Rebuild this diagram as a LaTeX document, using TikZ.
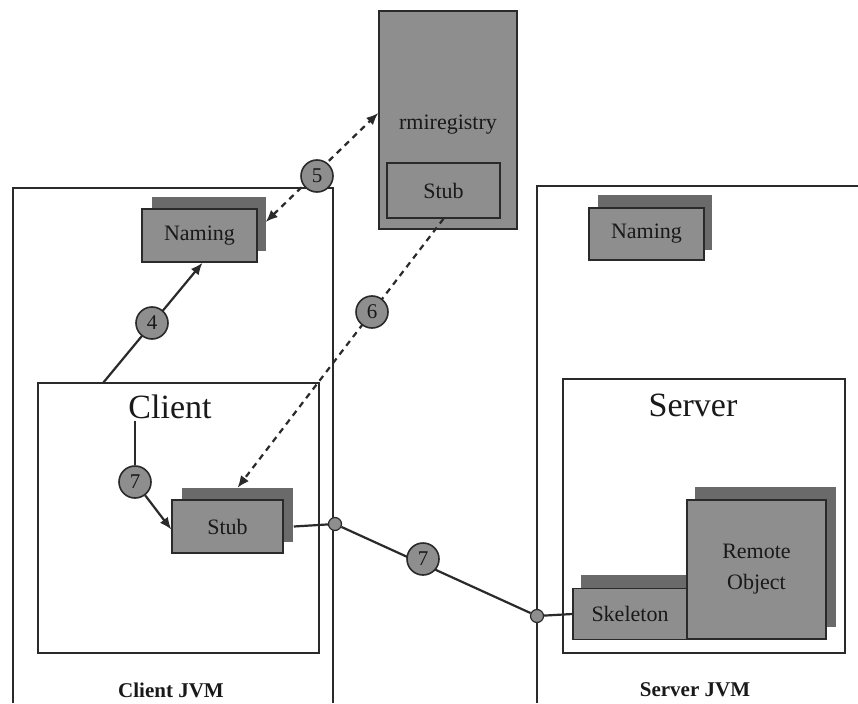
\documentclass[tikz,border=0pt]{standalone}
\usepackage{fontspec}
\setmainfont{LiberationSerif}[Extension=.ttf, UprightFont=*-Regular, BoldFont=*-Bold]
\usetikzlibrary{arrows.meta,calc}
\definecolor{boxfill}{HTML}{8E8E8E}
\definecolor{shadowfill}{HTML}{6A6A6A}
\definecolor{ink}{HTML}{2A2A2A}
\tikzset{
  comp/.style={draw=ink, fill=boxfill, line width=1.5pt, text=black!90, inner sep=0pt,
               font=\fontsize{22}{24}\selectfont},
  compsh/.style={fill=shadowfill, draw=none, inner sep=0pt},
  plaintext/.style={text=black!90, inner sep=0pt, font=\fontsize{22}{24}\selectfont},
  num/.style={circle, draw=ink, fill=boxfill, line width=1.6pt, minimum size=32pt,
              inner sep=0pt, font=\fontsize{21}{21}\selectfont, text=black!90},
  junc/.style={circle, draw=ink, fill=boxfill, minimum size=13pt, inner sep=0pt, line width=1.2pt},
  frame/.style={draw=ink, line width=2pt},
  conn/.style={draw=ink, line width=2.2pt},
  dconn/.style={draw=ink, line width=2.2pt, dash pattern=on 6pt off 5pt},
  arr/.style={-{Latex[length=12pt,width=10pt]}},
  darr/.style={{Latex[length=12pt,width=10pt]}-{Latex[length=12pt,width=10pt]}},
  biglabel/.style={font=\fontsize{34}{36}\selectfont, text=black!90, inner sep=2pt},
  jvmlabel/.style={font=\bfseries\fontsize{21}{24}\selectfont, text=black!90, inner sep=0pt}
}
\begin{document}
\begin{tikzpicture}[x=1pt, y=-1pt]
\useasboundingbox[fill=white] (0,0) rectangle (858,703);

% JVM containers
\draw[frame] (13,703) -- (13,188) -- (333,188) -- (333,703);
\draw[frame] (537,703) -- (537,186) -- (858,186);
\node[jvmlabel] (cjvm) at (171,690) {Client JVM};
\node[jvmlabel] (sjvm) at (695,690) {Server JVM};

% Client / Server boxes
\draw[frame] (38,383) rectangle (319,653);
\draw[frame] (563,379) rectangle (845,653);
\node[biglabel] (clientlbl) at (170,407) {Client};
\node[biglabel] (serverlbl) at (693,405) {Server};

% rmiregistry
\node[comp, minimum width=138pt, minimum height=218pt] (rmireg) at (448,120) {};
\node[plaintext, anchor=base] (rmitxt) at (448,130) {rmiregistry};
\node[comp, minimum width=113pt, minimum height=55pt] (rstub) at (443.5,190.5) {Stub};

% Client naming
\node[compsh, minimum width=114pt, minimum height=54pt] (cnamsh) at (208.5,224) {};
\node[comp, minimum width=115pt, minimum height=53pt] (cnam) at (199.5,235.5) {Naming};

% Server naming
\node[compsh, minimum width=114pt, minimum height=54pt] (snamsh) at (655,222.5) {};
\node[comp, minimum width=115pt, minimum height=52pt] (snam) at (646.5,234) {Naming};

% Client stub
\node[compsh, minimum width=111pt, minimum height=54pt] (cstubsh) at (237.5,515) {};
\node[comp, minimum width=111pt, minimum height=53pt] (cstub) at (227.5,526.5) {Stub};

% Skeleton and remote object
\node[compsh, minimum width=110pt, minimum height=52pt] (skelsh) at (636,601) {};
\node[compsh, minimum width=141pt, minimum height=140pt] (remsh) at (765,557) {};
\node[comp, minimum width=114pt, minimum height=51pt] (skel) at (630,614) {Skeleton};
\node[comp, minimum width=139pt, minimum height=139pt, align=center,
      font=\fontsize{22}{31}\selectfont] (rem) at (756.5,569.5) {Remote\\Object};

% connectors
\coordinate (p4) at (103,383);
\draw[conn, arr] (p4) -- ([xshift=3pt]cnam.south);
\draw[dconn, darr] ([yshift=2pt]cnamsh.east) -- ([yshift=7pt]rmireg.west);
\draw[dconn, arr] (rstub.south) -- (cstubsh.north);

\node[junc] (d1) at (335,524) {};
\node[junc] (d2) at (537,616) {};
\draw[conn] ([xshift=10pt]cstub.east) -- (d1) -- (d2) -- (skel.west);

\node[num] (c7a) at (135,482) {7};
\draw[conn] (clientlbl.south west -| c7a) -- (c7a);
\draw[conn, arr] (c7a) -- ([yshift=-3pt]cstub.west);

% step numbers
\node[num] (c4) at (152,323) {4};
\node[num] (c5) at (317,176) {5};
\node[num] (c6) at (372,312) {6};
\node[num] (c7b) at (423,559) {7};
\end{tikzpicture}
\end{document}
